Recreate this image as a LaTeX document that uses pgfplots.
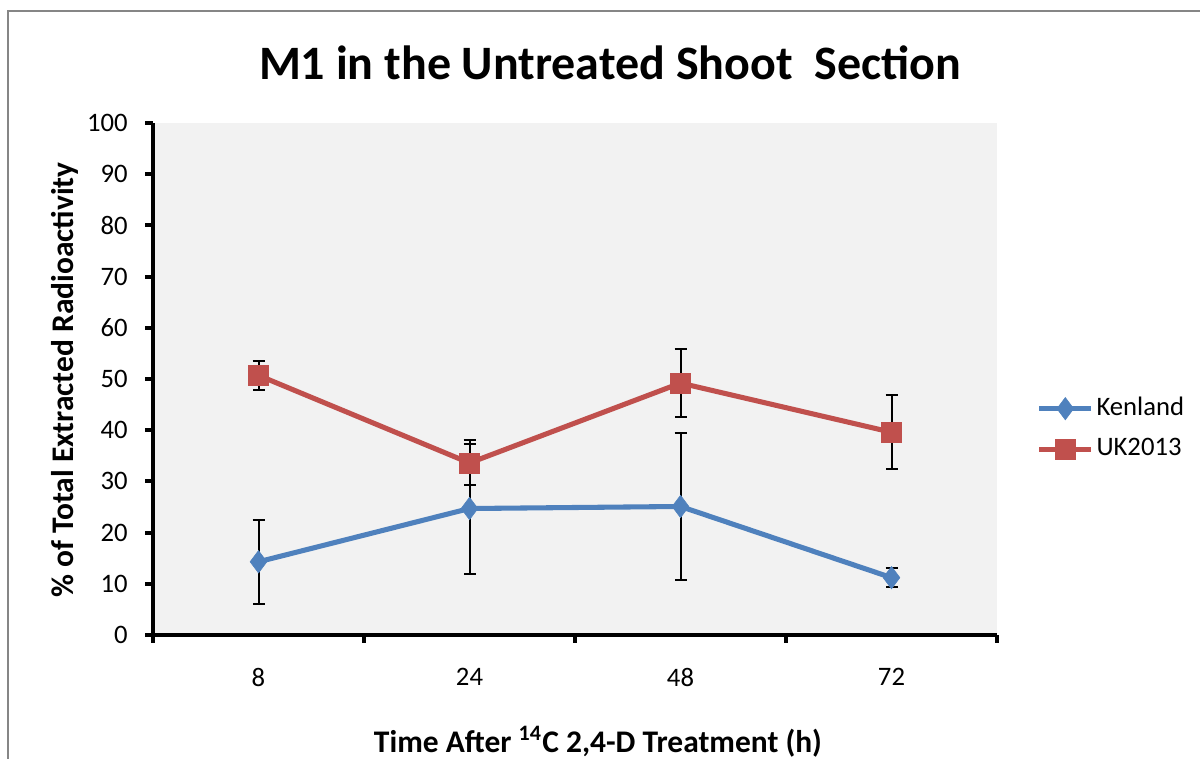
\documentclass[border=0pt]{standalone}
\usepackage{pgfplots}
\pgfplotsset{compat=1.18}
\usepackage{fontspec}
\setmainfont{Carlito}
\definecolor{kblue}{HTML}{4F81BD}
\definecolor{ured}{HTML}{C0504D}
\definecolor{plotbg}{HTML}{F2F2F2}
\definecolor{frame}{HTML}{868686}
\begin{document}
\begin{tikzpicture}
\useasboundingbox (0,0) rectangle (450pt,284.625pt);
\draw[frame, line width=0.75pt] (3pt,0pt) -- (3pt,280.5pt) -- (452pt,280.5pt);
\begin{axis}[
  at={(57.375pt,46.5pt)}, anchor=south west,
  scale only axis, width=316.5pt, height=192pt,
  xmin=0.5, xmax=4.5, ymin=0, ymax=100,
  axis lines*=left,
  axis line style={line width=1.5pt, black},
  axis background/.style={fill=plotbg},
  xtick={0.5,1.5,2.5,3.5,4.5},
  x tick label as interval,
  xticklabels={8,24,48,72},
  ytick={0,10,...,100},
  tick align=outside,
  major tick length=3pt,
  tick style={line width=1.5pt, black},
  ticklabel style={font=\fontsize{10}{12}\selectfont},
  /pgf/number format/assume math mode=true,
  xticklabel style={yshift=-6pt},
  yticklabel style={xshift=-3pt},
  legend style={draw=none, fill=none, at={(1.037,0.403)}, anchor=west,
    font=\fontsize{10}{12}\selectfont, row sep=5pt,
    nodes={inner sep=1pt}},
  legend cell align=left,
  legend image code/.code={%
    \draw[#1, mark=none] (0pt,0pt) -- (19.5pt,0pt);
    \draw[#1, only marks] plot coordinates {(9.75pt,0pt)};},
  error bars/error bar style={black, line width=0.75pt},
  error bars/error mark options={black, rotate=90, mark size=2.25pt, line width=0.75pt},
]
\addplot[kblue, line width=1.9pt, mark=diamond*, mark size=4.2pt,
  mark options={solid, fill=kblue, draw=kblue, line width=0.2pt},
  error bars/.cd, y dir=both, y explicit]
  coordinates {
  (1,14.3) +- (0,8.2)
  (2,24.7) +- (0,12.7)
  (3,25.1) +- (0,14.4)
  (4,11.2) +- (0,1.8)
  };
\addlegendentry{Kenland}
\addplot[ured, line width=1.9pt, mark=square*, mark size=3.75pt,
  mark options={solid, fill=ured, draw=ured, line width=0.2pt},
  error bars/.cd, y dir=both, y explicit]
  coordinates {
  (1,50.7) +- (0,2.9)
  (2,33.6) +- (0,4.4)
  (3,49.2) +- (0,6.6)
  (4,39.6) +- (0,7.2)
  };
\addlegendentry{UK2013}
\end{axis}
\node[font=\fontsize{18}{21}\selectfont\bfseries] at (228.75pt,261pt) {M1 in the Untreated Shoot\ \ Section};
\node[font=\fontsize{11.8}{14}\selectfont\bfseries, rotate=90] at (24.4pt,142.1pt) {\% of Total Extracted Radioactivity};
\node[font=\fontsize{11.8}{14}\selectfont\bfseries, anchor=base] at (224.25pt,2.6pt) {Time After \textsuperscript{14}C 2,4-D Treatment (h)};
\end{tikzpicture}
\end{document}
